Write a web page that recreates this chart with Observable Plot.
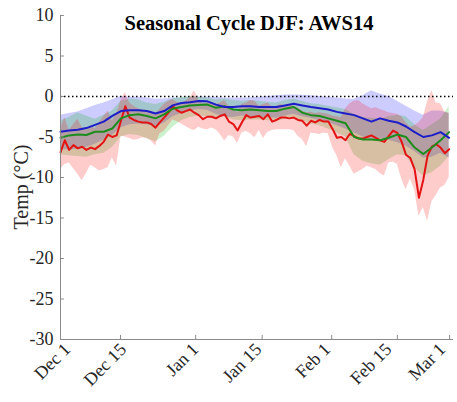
<!DOCTYPE html>
<html><head><meta charset="utf-8">
<script src="https://cdn.jsdelivr.net/npm/d3@7"></script>
<script src="https://cdn.jsdelivr.net/npm/@observablehq/plot@0.6"></script>
<style>body{margin:0;background:#fff;} #chart{width:457px;height:402px;} #chart svg, #chart svg text{font-family:"Liberation Serif","Times New Roman",Times,serif !important;}</style>
</head><body><div id="chart"></div>
<script>
const title = "Seasonal Cycle DJF: AWS14";
const yLabel = "Temp (°C)";
const tickDays = [0, 13.9, 31.3, 46.7, 62.8, 78.0, 90.1];
const tickLabels = ["Dec 1", "Dec 15", "Jan 1", "Jan 15", "Feb 1", "Feb 15", "Mar 1"];
const labelDays = [1.7, 14.65, 31.35, 45.95, 61.9, 76.05, 88.55];
const yTicks = [10, 5, 0, -5, -10, -15, -20, -25, -30];

// daily series (day 0 = Dec 1)
const dailyDays = d3.range(0, 91);
const redLine = [
 -6.9,-5.4,-6.6,-6.0,-6.4,-6.2,-6.6,-6.3,-6.5,-6.1,
 -5.6,-4.7,-5.0,-4.8,-3.0,-1.2,-2.6,-2.9,-3.1,-3.2,
 -3.2,-3.4,-3.85,-3.2,-2.6,-2.0,-1.2,-1.7,-2.0,-1.8,
 -1.6,-2.0,-2.3,-2.8,-2.5,-2.5,-2.7,-2.4,-2.2,-3.1,
 -3.4,-4.2,-3.2,-2.3,-2.6,-2.5,-2.4,-2.8,-2.2,-3.1,
 -2.9,-2.6,-2.6,-2.7,-2.6,-2.9,-3.0,-3.6,-3.0,-3.2,
 -2.9,-3.1,-3.1,-4.0,-5.1,-5.0,-5.4,-4.6,-4.9,-5.2,
 -5.2,-5.0,-4.8,-5.1,-5.4,-5.6,-4.9,-4.2,-4.5,-5.6,
 -7.2,-7.6,-9.0,-12.5,-10.3,-7.3,-6.2,-5.9,-6.3,-7.0,
 -6.5];
const redLo = [
 -9.0,-8.4,-8.2,-8.9,-9.6,-10.4,-9.5,-8.5,-8.8,-9.2,
 -9.0,-8.8,-7.6,-8.6,-4.9,-5.0,-5.2,-5.4,-5.3,-5.1,
 -5.2,-5.5,-6.1,-4.6,-4.3,-3.6,-2.9,-3.1,-3.4,-3.7,
 -4.0,-4.2,-3.8,-4.0,-4.1,-3.9,-4.1,-4.7,-5.5,-4.8,
 -5.0,-5.8,-4.5,-4.3,-4.6,-5.1,-4.2,-5.2,-4.4,-4.2,
 -4.1,-4.1,-4.1,-4.1,-4.2,-4.9,-5.3,-6.2,-4.5,-4.6,
 -4.7,-4.5,-4.6,-6.3,-7.3,-8.8,-7.7,-8.6,-9.6,-9.3,
 -9.0,-8.6,-8.8,-9.0,-9.5,-9.8,-8.2,-8.1,-8.4,-10.2,
 -11.5,-10.2,-11.5,-14.8,-13.7,-15.4,-13.0,-12.2,-11.3,-11.0,
 -10.0];
const redHi = [
 -4.0,-2.6,-4.2,-3.5,-2.8,-3.8,-4.2,-3.6,-4.0,-3.2,
 -2.5,-1.8,-3.0,-2.2,-0.5,0.5,-0.8,-1.2,-1.5,-1.7,
 -2.0,-1.8,-2.2,-1.6,-1.0,-0.6,-0.4,-0.7,-0.9,-0.6,
 -0.2,0.7,-0.5,-0.9,-0.8,-0.7,-1.0,-0.8,-0.5,-1.2,
 -1.5,-2.0,-1.0,-0.8,-0.5,-0.6,-1.2,-1.0,-0.8,-1.3,
 -1.2,-1.0,-1.1,-1.0,-1.2,-1.4,-1.8,-2.0,-1.9,-2.1,
 -2.0,-2.1,-2.2,-2.4,-2.5,-2.6,-1.5,-0.9,-0.6,-0.5,
 -0.9,-1.2,-1.5,-1.4,-1.6,-1.8,-2.0,-2.1,-2.2,-2.5,
 -3.2,-3.8,-3.6,-3.2,-2.6,-0.6,0.7,-0.8,-0.9,-1.9,
 -2.1];

// smoother series, every second day
const smoothDays = d3.range(0, 91, 2);
const blueLine = [
 -4.35,-4.2,-4.1,-3.9,-3.5,-3.1,-2.4,-1.8,-1.7,-1.7,
 -1.8,-2.1,-1.8,-1.1,-0.8,-0.7,-0.55,-0.6,-1.0,-1.3,
 -1.3,-1.2,-1.2,-1.3,-1.3,-1.3,-1.1,-0.9,-1.1,-1.3,
 -1.45,-1.6,-1.9,-2.1,-2.3,-2.7,-3.1,-2.7,-3.0,-3.2,
 -3.7,-4.4,-5.0,-4.8,-4.4,-5.1];
const blueHi = [
 -2.3,-2.1,-1.9,-1.5,-1.1,-0.8,-0.4,0.0,-0.1,-0.1,
 -0.2,-0.35,-0.3,-0.2,-0.2,-0.1,-0.05,-0.05,-0.1,-0.2,
 -0.2,-0.2,-0.15,-0.1,0.0,0.1,0.2,0.2,0.15,0.1,
 0.0,-0.1,-0.2,-0.3,-0.35,0.1,0.7,0.3,0.0,-0.6,
 -1.2,-1.8,-2.3,-1.8,-1.8,-2.1];
const blueLo = [
 -6.5,-6.6,-6.5,-6.3,-5.9,-5.4,-4.8,-3.9,-3.5,-3.4,
 -3.5,-3.7,-3.3,-2.5,-2.1,-1.8,-1.6,-1.7,-2.2,-2.5,
 -2.6,-2.4,-2.5,-2.6,-2.6,-2.7,-2.4,-2.2,-2.5,-2.7,
 -3.0,-3.2,-3.6,-4.0,-4.5,-5.0,-5.4,-5.2,-5.4,-5.7,
 -6.1,-6.8,-7.6,-7.5,-7.0,-7.6];
const greenLine = [
 -5.1,-4.8,-4.7,-4.75,-4.35,-4.35,-3.95,-2.7,-2.3,-2.2,
 -2.4,-2.7,-2.2,-1.5,-1.3,-1.1,-1.05,-1.0,-1.4,-1.2,
 -1.6,-1.7,-1.6,-1.7,-1.8,-1.8,-1.5,-1.3,-2.0,-2.3,
 -2.4,-2.7,-3.0,-3.3,-5.0,-5.3,-5.3,-5.4,-5.1,-4.7,
 -5.0,-6.3,-7.1,-6.3,-5.4,-4.4];
const greenHi = [
 -3.0,-2.6,-2.0,-2.4,-2.8,-2.3,-1.8,-0.6,-0.3,-0.4,
 -0.8,-1.0,-0.7,-0.3,-0.1,0.0,-0.1,-0.2,-0.4,-0.3,
 -0.5,-0.6,-0.5,-0.6,-0.7,-0.8,-0.5,-0.3,-0.6,-0.9,
 -1.0,-1.2,-1.4,-1.6,-2.2,-2.6,-2.7,-2.8,-2.5,-2.3,
 -2.5,-3.5,-4.2,-3.5,-2.8,-1.2];
const greenLo = [
 -7.2,-7.3,-7.4,-7.5,-7.2,-7.0,-6.3,-5.0,-4.7,-4.8,
 -5.2,-5.6,-4.9,-3.8,-3.0,-2.6,-2.4,-2.5,-2.7,-2.5,
 -2.9,-3.0,-2.9,-2.9,-3.0,-3.1,-2.8,-2.5,-3.0,-3.4,
 -3.6,-4.0,-4.5,-5.0,-7.2,-8.0,-8.3,-8.5,-7.8,-7.2,
 -7.3,-8.8,-9.8,-9.4,-8.6,-7.4];

const red = dailyDays.map((d, i) => ({day: d, v: redLine[i], lo: redLo[i], hi: redHi[i]}));
const blue = smoothDays.map((d, i) => ({day: d, v: blueLine[i], lo: blueLo[i], hi: blueHi[i]}));
const green = smoothDays.map((d, i) => ({day: d, v: greenLine[i], lo: greenLo[i], hi: greenHi[i]}));

const serif = "'Liberation Serif', 'Times New Roman', Times, serif";
const axisGray = "#8a8a8a";
const chart = Plot.plot({
  width: 457, height: 402,
  marginTop: 15, marginBottom: 63, marginLeft: 60, marginRight: 4,
  style: `font-family: ${serif}; font-size: 17px; color: #262626; background: white;`,
  x: {domain: [0, 91], axis: null},
  y: {domain: [-30, 10], axis: null},
  marks: [
    Plot.areaY(blue, {x: "day", y1: "lo", y2: "hi", fill: "#0000ff", fillOpacity: 0.2}),
    Plot.areaY(green, {x: "day", y1: "lo", y2: "hi", fill: "#00b000", fillOpacity: 0.2}),
    Plot.areaY(red, {x: "day", y1: "lo", y2: "hi", fill: "#ff0000", fillOpacity: 0.2}),
    Plot.ruleY([0], {stroke: "black", strokeWidth: 1.5, strokeDasharray: "1.5,2.5"}),
    Plot.line(red, {x: "day", y: "v", stroke: "#e41212", strokeWidth: 2}),
    Plot.line(green, {x: "day", y: "v", stroke: "#1c8c1c", strokeWidth: 2}),
    Plot.line(blue, {x: "day", y: "v", stroke: "#1c1cc8", strokeWidth: 2}),
    Plot.ruleX([0], {stroke: axisGray}),
    Plot.ruleY([-30], {stroke: axisGray}),
    Plot.ruleY(yTicks, {x1: 0, x2: 0.9, stroke: axisGray}),
    Plot.ruleX(tickDays, {y1: -30, y2: -29.5, stroke: axisGray}),
    Plot.axisY({ticks: yTicks, tickSize: 0, tickPadding: 7, tickFormat: d => String(d), fontSize: 18, fontFamily: serif, label: null}),
    Plot.text([title], {frameAnchor: "top", dx: -8, dy: 0, fontWeight: "bold", fontSize: 20.5, fontFamily: serif, fill: "black"})
  ]
});
const xs = chart.scale("x"), ys = chart.scale("y");
const labels = d3.select(chart).append("g").attr("font-size", 18).attr("fill", "#262626");
tickLabels.forEach((t, i) => {
  const ax = xs.apply(labelDays[i]), ay = ys.apply(-30) + 7.4;
  labels.append("text")
    .attr("transform", `translate(${ax},${ay}) rotate(-45)`)
    .attr("text-anchor", "end")
    .attr("dy", "0.32em")
    .text(t);
});
d3.select(chart).append("text")
  .attr("transform", "translate(21,187) rotate(-90)")
  .attr("text-anchor", "middle")
  .attr("dy", "0.35em")
  .attr("font-size", 20)
  .attr("fill", "#262626")
  .text(yLabel);
document.getElementById("chart").appendChild(chart);
</script>
</body></html>
